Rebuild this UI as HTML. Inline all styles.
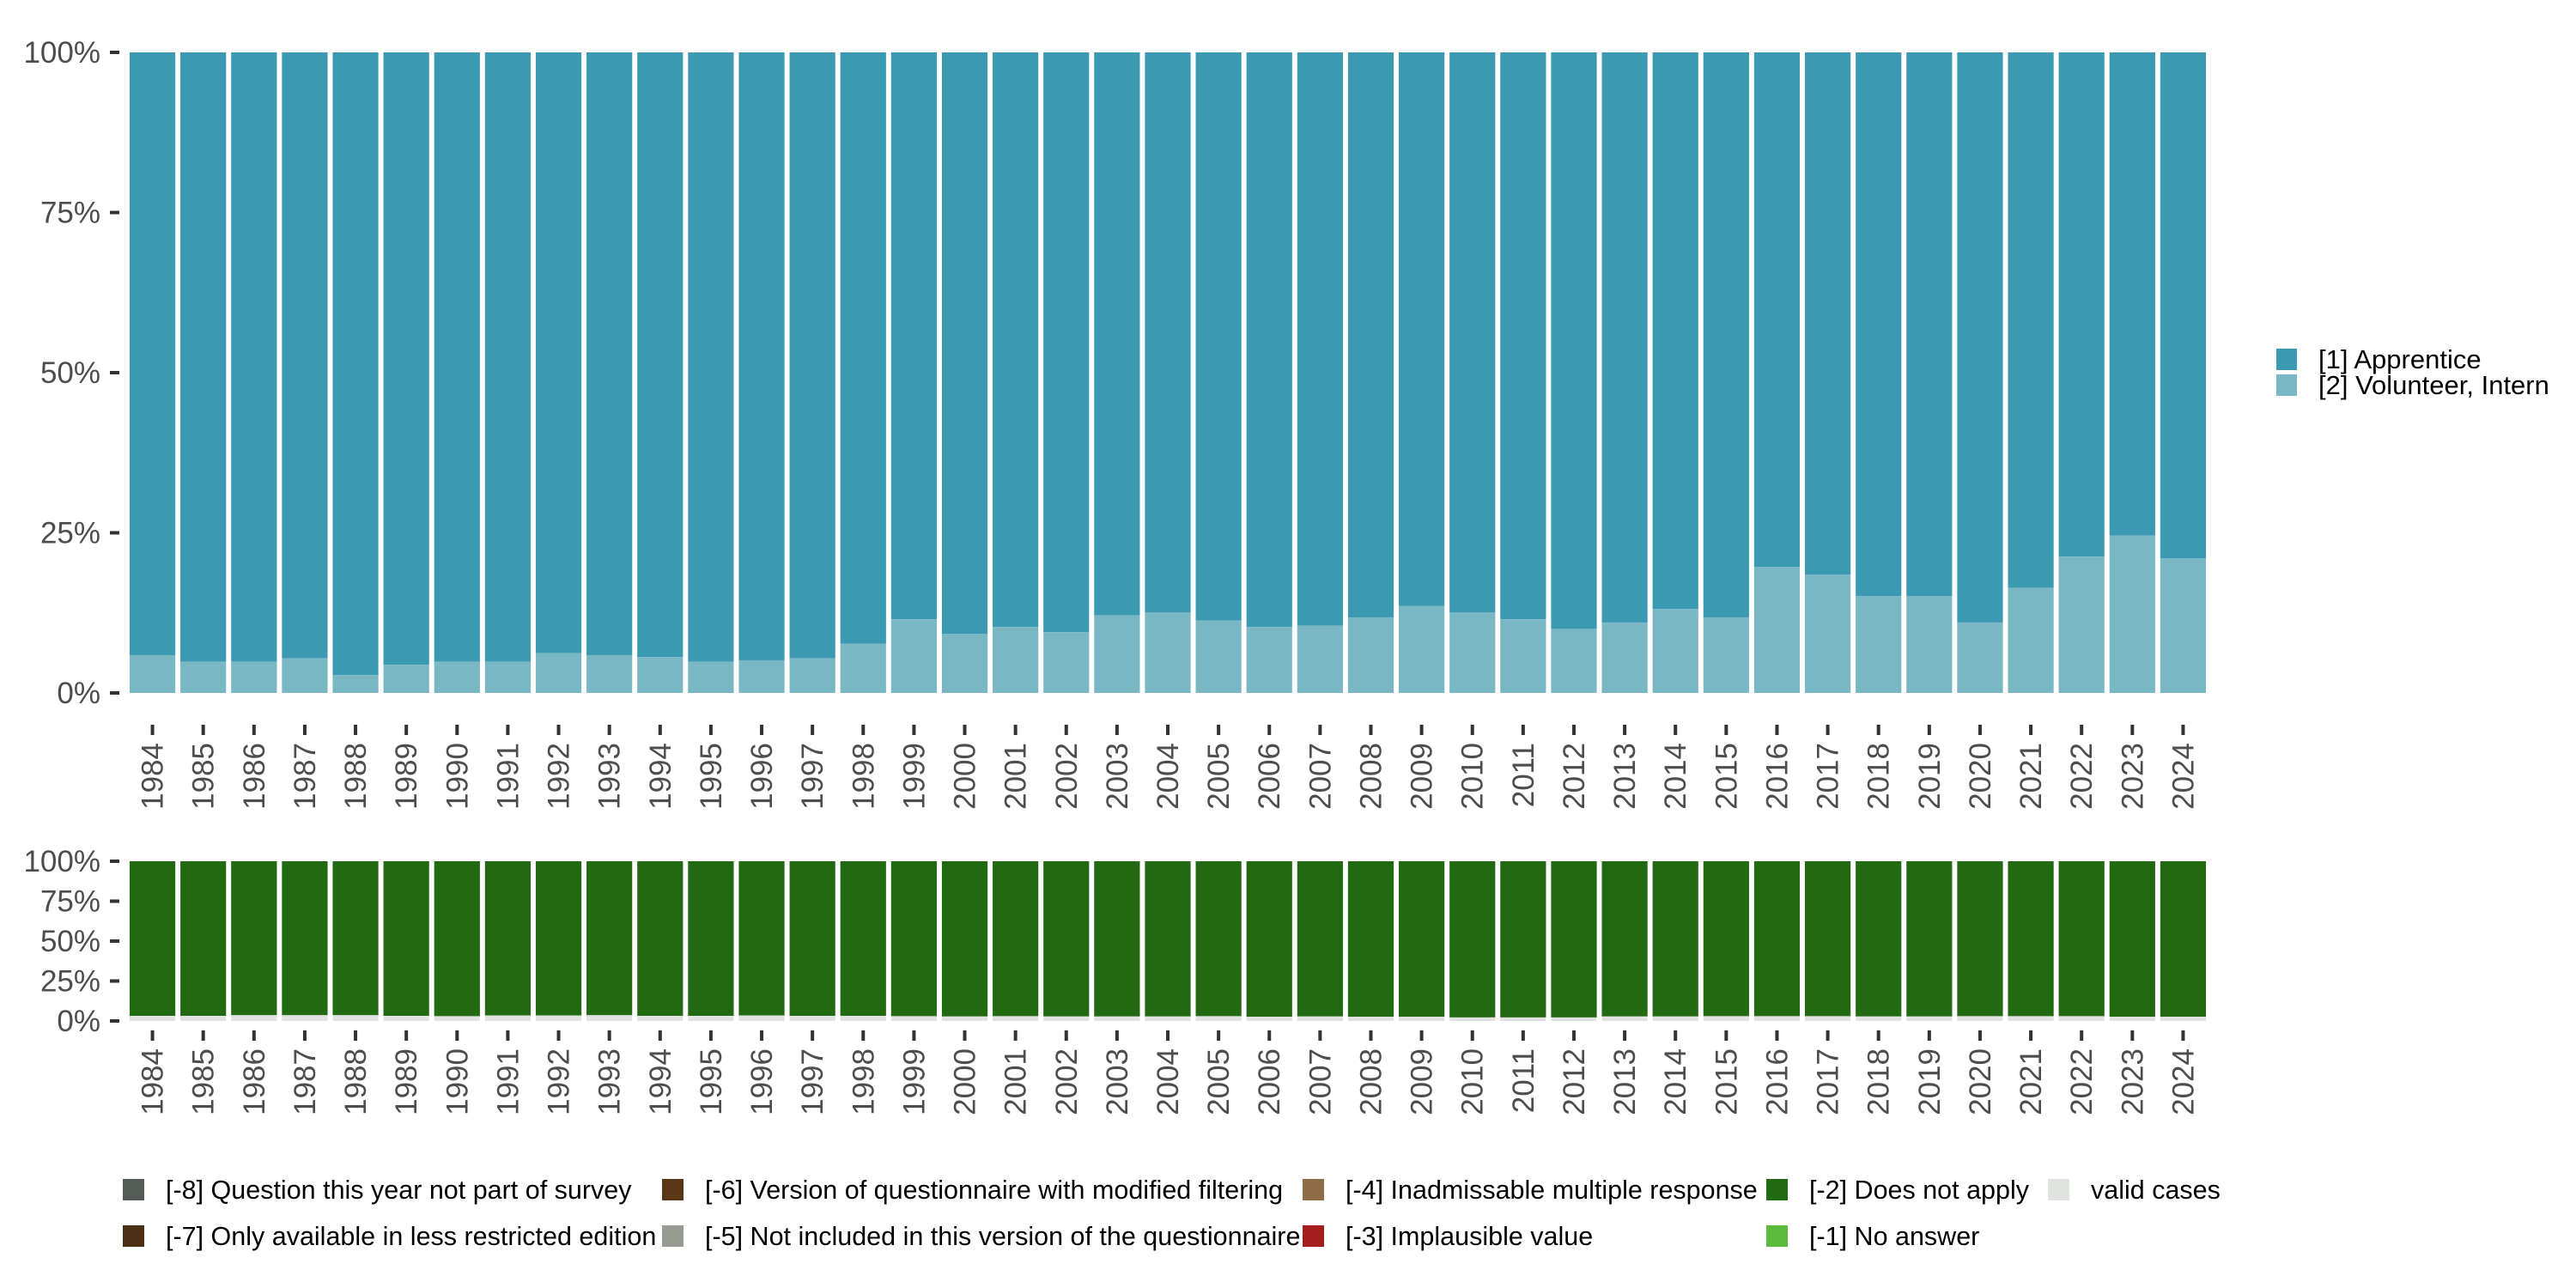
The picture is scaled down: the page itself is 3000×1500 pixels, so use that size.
<!DOCTYPE html>
<html><head><meta charset="utf-8"><style>
html,body{margin:0;padding:0;background:#fff}
svg{display:block;font-family:"Liberation Sans","DejaVu Sans",sans-serif}
</style></head><body>
<svg id="c" width="3000" height="1500" viewBox="0 0 3000 1500" xmlns="http://www.w3.org/2000/svg"></svg>
<script>
const years = [1984,1985,1986,1987,1988,1989,1990,1991,1992,1993,1994,1995,1996,1997,1998,1999,2000,2001,2002,2003,2004,2005,2006,2007,2008,2009,2010,2011,2012,2013,2014,2015,2016,2017,2018,2019,2020,2021,2022,2023,2024];
const volunteerPct = [5.9,4.9,4.9,5.4,2.8,4.4,4.9,4.9,6.2,5.9,5.6,4.9,5.1,5.4,7.7,11.5,9.2,10.3,9.5,12.1,12.6,11.3,10.3,10.5,11.8,13.6,12.6,11.5,10.0,11.0,13.1,11.8,19.7,18.5,15.1,15.1,11.0,16.4,21.3,24.6,21.0];
const validPct = [3.2,3.2,3.6,3.6,3.6,3.2,3.0,3.4,3.4,3.6,3.2,3.2,3.4,3.2,3.2,3.0,2.8,3.0,2.8,2.8,2.8,3.0,2.6,2.8,2.6,2.6,2.2,2.2,2.2,2.8,2.8,3.0,3.0,3.0,2.8,2.8,3.0,3.0,3.0,2.6,2.6];
const yTicks = [0,25,50,75,100];
const yTickLabels = ["0%","25%","50%","75%","100%"];
const legendTop = [["[1] Apprentice","#3b99b1"],["[2] Volunteer, Intern","#79b7c5"]];
const legendBottom = [
 ["[-8] Question this year not part of survey","#555c57",143,1385],
 ["[-7] Only available in less restricted edition","#4a2e16",143,1439],
 ["[-6] Version of questionnaire with modified filtering","#5a3716",771,1385],
 ["[-5] Not included in this version of the questionnaire","#979b93",771,1439],
 ["[-4] Inadmissable multiple response","#8f6b47",1517,1385],
 ["[-3] Implausible value","#a51d1d",1517,1439],
 ["[-2] Does not apply","#216a11",2057,1385],
 ["[-1] No answer","#5aba3c",2057,1439],
 ["valid cases","#e0e3df",2385,1385]];
const NS="http://www.w3.org/2000/svg";
const svg=document.getElementById('c');
function mk(tag,attrs,parent){const e=document.createElementNS(NS,tag);for(const k in attrs)e.setAttribute(k,attrs[k]);(parent||svg).appendChild(e);return e;}
const x0=148,x1=2572,step=(x1-x0)/years.length,bw=step*0.9;
function xc(i){return x0+step*(i+0.5);}
function panel(top,bot,name,drawBars,tickY){
  const g=mk('g',{});
  
  
  const y=v=>bot-(bot-top)*v/100;
  drawBars(g,y);
  yTicks.forEach((t,k)=>{
    const tk=mk('rect',{x:128,y:y(t)-2,width:11,height:4,fill:'#333'},g);
    
    
    const tx=mk('text',{x:117,y:y(t)+12,'text-anchor':'end','font-size':35,fill:'#4d4d4d'},g);
    
    
    tx.textContent=yTickLabels[k];
  });
  years.forEach((yr,i)=>{
    const tk=mk('rect',{x:xc(i)-2,y:tickY,width:4,height:12,fill:'#333'},g);
    
    
    const tx=mk('text',{x:0,y:0,'text-anchor':'end','font-size':35,fill:'#4d4d4d',transform:`translate(${xc(i)+12},${tickY+21}) rotate(-90)`},g);
    
    
    tx.textContent=yr;
  });
}
panel(61,807,'top-panel',(g,y)=>{
  years.forEach((yr,i)=>{
    const a=mk('rect',{x:xc(i)-bw/2,y:y(100),width:bw,height:y(volunteerPct[i])-y(100),fill:'#3b99b1'},g);
    
    
    const b=mk('rect',{x:xc(i)-bw/2,y:y(volunteerPct[i]),width:bw,height:y(0)-y(volunteerPct[i]),fill:'#79b7c5'},g);
    
    
  });
},844);
panel(1003,1189,'bottom-panel',(g,y)=>{
  years.forEach((yr,i)=>{
    const a=mk('rect',{x:xc(i)-bw/2,y:y(100),width:bw,height:y(validPct[i])-y(100),fill:'#216a11'},g);
    
    
    const b=mk('rect',{x:xc(i)-bw/2,y:y(validPct[i]),width:bw,height:y(0)-y(validPct[i]),fill:'#e0e3df'},g);
    
    
  });
},1200);
legendTop.forEach((l,k)=>{
  const r=mk('rect',{x:2651,y:406+k*30,width:24,height:25,fill:l[1]});
  
  
  const t=mk('text',{x:2700,y:429+k*30,'font-size':31,fill:'#000'});
  
  
  t.textContent=l[0];
});
legendBottom.forEach(l=>{
  const r=mk('rect',{x:l[2],y:l[3]-12,width:25,height:25,fill:l[1]});
  
  
  const t=mk('text',{x:l[2]+50,y:l[3]+11,'font-size':30.5,fill:'#000'});
  
  
  t.textContent=l[0];
});
</script>
</body></html>
